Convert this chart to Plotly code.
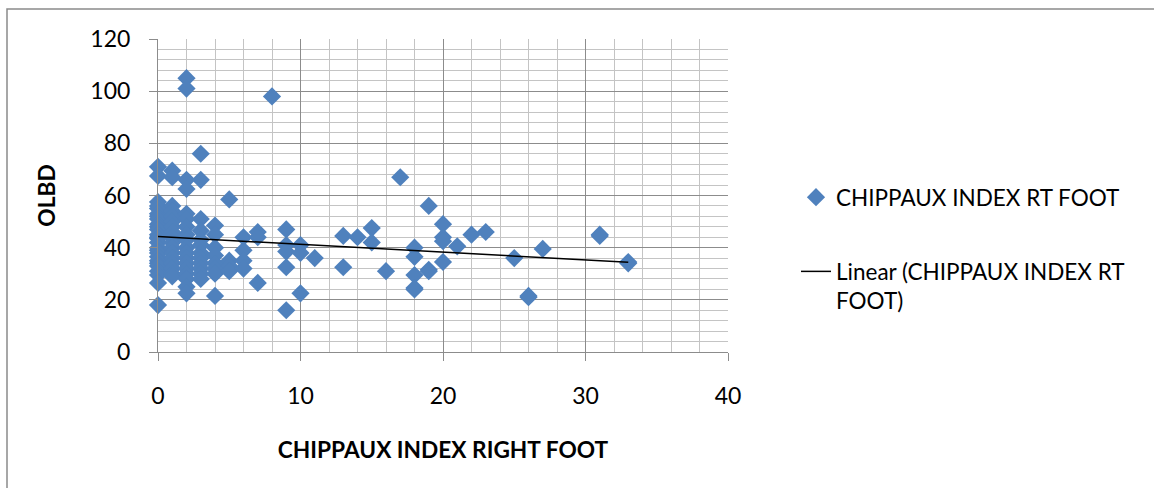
import numpy as np
import plotly.graph_objects as go

# ---- data (CHIPPAUX INDEX RT FOOT vs OLBD) ----
chippaux_index = [
    0, 0, 0, 0, 0, 0, 0, 0, 0, 0, 0, 0, 0, 0, 0, 0, 0, 0, 0, 0, 0, 0, 0, 0, 0, 0,
    1, 1, 1, 1, 1, 1, 1, 1, 1, 1, 1, 1, 1, 1, 1, 1, 1,
    2, 2, 2, 2, 2, 2, 2, 2, 2, 2, 2, 2, 2, 2, 2, 2, 2, 2,
    3, 3, 3, 3, 3, 3, 3, 3, 3, 3, 3, 3,
    4, 4, 4, 4, 4, 4, 4, 4,
    5, 5, 5, 5,
    6, 6, 6, 6,
    7, 7, 7,
    8,
    9, 9, 9, 9, 9,
    10, 10, 10,
    11,
    13, 13,
    14,
    15, 15,
    16,
    17,
    18, 18, 18, 18, 18,
    19, 19, 19,
    20, 20, 20, 20,
    21,
    22,
    23,
    25,
    26, 26,
    27,
    31, 31,
    33, 33,
]
olbd = [
    71, 67.5, 57.5, 56, 55, 53, 52, 51, 49, 48, 47, 45, 44, 43.5, 42, 40, 39, 38, 36.5, 35, 34, 33, 31, 29.5, 26.5, 18,
    69.5, 67, 56, 54, 52, 50, 48, 46, 44, 42, 40, 38, 36, 34, 32, 30, 29,
    105, 101, 66, 62.5, 53, 51, 48, 45, 43, 40, 38, 36, 34, 32, 30, 28, 25, 22.5,
    76, 66, 51, 46.5, 43, 41, 38, 36, 34, 32, 30, 28,
    48.5, 45, 40, 37, 34, 32, 30, 21.5,
    58.5, 35, 33, 31,
    44, 39, 35, 32,
    46, 44, 26.5,
    98,
    47, 41, 38.5, 32.5, 16,
    41, 38, 22.5,
    36,
    44.5, 32.5,
    44,
    47.5, 42,
    31,
    67,
    40, 36.5, 29.5, 24.5, 24,
    56, 31.5, 31,
    49, 44, 42.5, 34.5,
    40.5,
    45,
    46,
    36,
    21.5, 21,
    39.5,
    45, 44.5,
    34.5, 34,
]

x_ticks = [0, 10, 20, 30, 40]
y_ticks = [0, 20, 40, 60, 80, 100, 120]

series_name = "CHIPPAUX INDEX RT FOOT"
trend_name = "Linear (CHIPPAUX INDEX RT<br>FOOT)"
x_title = "CHIPPAUX INDEX RIGHT FOOT"
y_title = "OLBD"

# ---- linear trendline fitted from the data ----
xs = np.array(chippaux_index, dtype=float)
ys = np.array(olbd, dtype=float)
slope, intercept = np.polyfit(xs, ys, 1)
trend_x = [xs.min(), xs.max()]
trend_y = [intercept + slope * v for v in trend_x]

FONT = "Lato, Calibri, Carlito, sans-serif"
BLUE = "#4F81BD"
MAJOR = "#8C8C8C"
MINOR = "#C4C4C4"

fig = go.Figure()
fig.add_trace(go.Scatter(
    x=chippaux_index, y=olbd, mode="markers", name=series_name,
    legendgroup="a", cliponaxis=False,
    marker=dict(symbol="diamond", size=14, color=BLUE, line=dict(width=0)),
))
fig.add_trace(go.Scatter(
    x=trend_x, y=trend_y, mode="lines", name=trend_name,
    legendgroup="b",
    line=dict(color="#000000", width=1.5),
))

W, H = 1154, 488
L, R, T, B = 158, 426, 39, 136
pw, ph = W - L - R, H - T - B

def px_to_paper_x(p):
    return (p - L) / pw

def px_to_paper_y(p):
    return (H - B - p) / ph

fig.update_layout(
    width=W, height=H,
    margin=dict(l=L, r=R, t=T, b=B, pad=0),
    paper_bgcolor="white", plot_bgcolor="white",
    font=dict(family=FONT, size=23, color="#000000"),
    showlegend=True,
    legend=dict(
        x=px_to_paper_x(796), y=px_to_paper_y(176), xanchor="left", yanchor="top",
        traceorder="grouped", tracegroupgap=42, valign="top",
        font=dict(family=FONT, size=22.5, color="#000000"),
        bgcolor="rgba(0,0,0,0)", borderwidth=0,
    ),
    xaxis=dict(
        range=[0, 40], tickvals=x_ticks, ticktext=[str(v) for v in x_ticks],
        showgrid=True, gridcolor=MAJOR, gridwidth=1,
        minor=dict(dtick=2, showgrid=True, gridcolor=MINOR, gridwidth=1, ticks=""),
        showline=True, linecolor=MAJOR, linewidth=1,
        ticks="outside", ticklen=8, tickcolor=MAJOR, tickwidth=1,
        ticklabelstandoff=15,
        tickfont=dict(family=FONT, size=23),
        zeroline=False,
        title=dict(text="<b>" + x_title + "</b>", standoff=34,
                   font=dict(family=FONT, size=22.7)),
        mirror=False,
    ),
    yaxis=dict(
        range=[0, 120], tickvals=y_ticks, ticktext=[str(v) for v in y_ticks],
        showgrid=True, gridcolor=MAJOR, gridwidth=1,
        minor=dict(dtick=4, showgrid=True, gridcolor=MINOR, gridwidth=1, ticks=""),
        showline=True, linecolor=MAJOR, linewidth=1,
        ticks="outside", ticklen=8, tickcolor=MAJOR, tickwidth=1,
        ticklabelstandoff=14,
        tickfont=dict(family=FONT, size=23),
        zeroline=False,
        title=dict(text="<b>" + y_title + "</b>", standoff=28,
                   font=dict(family=FONT, size=22.7)),
    ),
    shapes=[dict(
        type="rect", xref="paper", yref="paper",
        x0=px_to_paper_x(7), x1=px_to_paper_x(1170),
        y0=px_to_paper_y(9), y1=px_to_paper_y(520),
        line=dict(color="#8A8A8A", width=1.5), fillcolor="rgba(0,0,0,0)", layer="below",
    )],
)

fig.write_html("out.html")
